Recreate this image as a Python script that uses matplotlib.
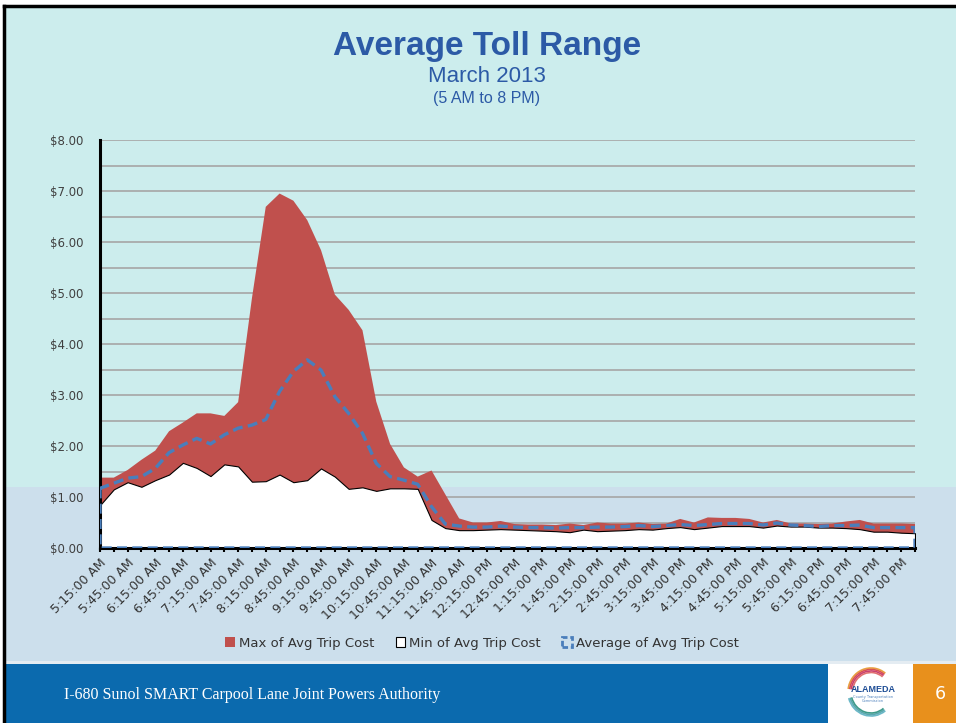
import matplotlib.pyplot as plt
import matplotlib.patches as mpatches
from matplotlib.lines import Line2D

# 15-minute slots, 5:15 AM .. 8:00 PM
slots = []
for h in range(5, 21):
    for m in (0, 15, 30, 45):
        if (h == 5 and m == 0) or (h == 20 and m > 0):
            continue
        hh = h if h <= 12 else h - 12
        ampm = "AM" if h < 12 else "PM"
        slots.append(f"{hh}:{m:02d}:00 {ampm}")

max_cost = [1.38, 1.38, 1.53, 1.73, 1.91, 2.29, 2.46, 2.64, 2.64, 2.59,
            2.86, 4.90, 6.69, 6.95, 6.81, 6.43, 5.84, 4.97, 4.67, 4.27,
            2.87, 2.04, 1.58, 1.40, 1.52, 1.05, 0.58, 0.50, 0.50, 0.53,
            0.47, 0.46, 0.46, 0.45, 0.48, 0.45, 0.50, 0.48, 0.48, 0.50,
            0.47, 0.48, 0.57, 0.50, 0.60, 0.59, 0.59, 0.57, 0.50, 0.55,
            0.48, 0.48, 0.47, 0.48, 0.52, 0.55, 0.48, 0.48, 0.48, 0.47]
min_cost = [0.84, 1.15, 1.29, 1.20, 1.33, 1.44, 1.67, 1.57, 1.41, 1.64,
            1.60, 1.30, 1.31, 1.44, 1.29, 1.33, 1.56, 1.40, 1.16, 1.19,
            1.12, 1.17, 1.17, 1.16, 0.55, 0.39, 0.35, 0.35, 0.36, 0.37,
            0.36, 0.35, 0.34, 0.33, 0.31, 0.36, 0.33, 0.34, 0.35, 0.37,
            0.36, 0.39, 0.41, 0.37, 0.40, 0.43, 0.43, 0.43, 0.40, 0.44,
            0.42, 0.42, 0.40, 0.40, 0.39, 0.37, 0.32, 0.32, 0.30, 0.29]
avg_cost = [1.17, 1.27, 1.37, 1.40, 1.56, 1.87, 2.02, 2.15, 2.04, 2.22,
            2.35, 2.41, 2.52, 3.07, 3.46, 3.69, 3.49, 2.97, 2.64, 2.25,
            1.66, 1.40, 1.33, 1.25, 0.81, 0.47, 0.43, 0.41, 0.41, 0.43,
            0.41, 0.40, 0.40, 0.39, 0.40, 0.40, 0.41, 0.41, 0.42, 0.44,
            0.42, 0.44, 0.46, 0.44, 0.46, 0.48, 0.48, 0.48, 0.45, 0.49,
            0.45, 0.44, 0.42, 0.44, 0.44, 0.45, 0.40, 0.40, 0.40, 0.40]

yticks = [0, 1, 2, 3, 4, 5, 6, 7, 8]

RED = "#C0504D"
BLUE = "#4A7EBB"
CYAN = "#CCEDED"
LIGHTBLUE = "#CCDFEC"

W, H = 956, 723
fig = plt.figure(figsize=(W / 100, H / 100), dpi=100)
fig.patch.set_facecolor("white")

def px(x, y, w, h):
    # pixel box (top-left origin) to figure fraction
    return (x / W, 1 - (y + h) / H, w / W, h / H)

def rect(x, y, w, h, color):
    x0, y0, ww, hh = px(x, y, w, h)
    fig.patches.append(mpatches.Rectangle((x0, y0), ww, hh, transform=fig.transFigure,
                                          facecolor=color, edgecolor="none", zorder=-5))

# slide background
rect(4, 6, W, 481, CYAN)
rect(4, 487, W, 174, LIGHTBLUE)
rect(4, 661, W, 3, "#E4ECF2")
rect(4, 664, 824, 59, "#0B6AAE")
rect(828, 664, 85, 59, "white")
rect(913, 664, 43, 59, "#E8901C")
# black frame lines
fig.add_artist(Line2D([4 / W, 4 / W], [0, 1 - 6 / H], color="black", lw=2.5,
                      transform=fig.transFigure, zorder=-4))
fig.add_artist(Line2D([4 / W, 1], [1 - 6 / H, 1 - 6 / H], color="black", lw=2.5,
                      transform=fig.transFigure, zorder=-4))

# titles
fig.text(487 / W, 1 - 47 / H, "Average Toll Range", ha="center", va="center",
         fontsize=24, fontweight="bold", color="#2C5AA6", family="Liberation Sans")
fig.text(487 / W, 1 - 76 / H, "March 2013", ha="center", va="center",
         fontsize=16, color="#2C5AA6", family="Liberation Sans")
fig.text(487 / W, 1 - 99 / H, "(5 AM to 8 PM)", ha="center", va="center",
         fontsize=11.5, color="#2C5AA6", family="Liberation Sans")

# chart
ax = fig.add_axes(px(100, 140, 815, 408))
ax.patch.set_alpha(0)
x = list(range(len(slots)))

ax.fill_between(x, 0, max_cost, facecolor=RED, edgecolor="none", zorder=2,
                label="Max of Avg Trip Cost")
ax.fill_between(x, 0, min_cost, facecolor="white", edgecolor="black", lw=0.8, zorder=3,
                label="Min of Avg Trip Cost")
ax.fill_between(x, 0, avg_cost, facecolor="none", edgecolor=BLUE, lw=2.4,
                linestyle=(0, (3, 1.6)), zorder=4, label="Average of Avg Trip Cost")

ax.set_xlim(0, len(slots) - 1)
ax.set_ylim(0, 8)
ax.set_yticks(yticks)
ax.set_yticklabels([f"${v:.2f}" for v in yticks])
ax.set_yticks([v + 0.5 for v in yticks[:-1]], minor=True)
ax.grid(True, axis="y", which="both", color="#A6A6A6", lw=1.2, zorder=0)
ax.set_axisbelow(True)

ax.set_xticks(x)
ax.set_xticklabels([s if i % 2 == 0 else "" for i, s in enumerate(slots)],
                   rotation=45, ha="right", rotation_mode="anchor",
                   fontsize=9, color="#333333")
ax.tick_params(axis="x", length=3, width=1.5, color="black", pad=3)
ax.tick_params(axis="y", which="both", length=0, labelsize=8.5, labelcolor="#404040", pad=12)

for side in ("top", "right"):
    ax.spines[side].set_visible(False)
for side in ("left", "bottom"):
    ax.spines[side].set_linewidth(2.2)
    ax.spines[side].set_zorder(3.5)

# legend
handles = [
    mpatches.Patch(facecolor=RED, edgecolor="none"),
    mpatches.Patch(facecolor="white", edgecolor="black", lw=0.8),
    mpatches.Patch(facecolor="none", edgecolor=BLUE, lw=2, linestyle=(0, (2, 1))),
]
labels = ["Max of Avg Trip Cost", "Min of Avg Trip Cost", "Average of Avg Trip Cost"]
fig.legend(handles, labels, loc="center", bbox_to_anchor=(482 / W, 1 - 643 / H), ncol=3,
           frameon=False, fontsize=9.5, handlelength=0.75, handleheight=0.75,
           handletextpad=0.3, columnspacing=1.6, labelcolor="#333333")

# footer
fig.text(64 / W, 1 - 695 / H, "I-680 Sunol SMART Carpool Lane Joint Powers Authority",
         ha="left", va="center", fontsize=11.5, color="white", family="Liberation Serif")
fig.text(873 / W, 1 - 690 / H, "ALAMEDA", ha="center", va="center", fontsize=6.5,
         fontweight="bold", color="#1F4E96", family="Liberation Sans")
fig.text(873 / W, 1 - 699 / H, "County Transportation\nCommission", ha="center", va="center",
         fontsize=2.5, color="#4A7EBB", linespacing=1.0)
for i, c in enumerate(["#E8A040", "#D9534F", "#C94070", "#E07070"]):
    fig.add_artist(mpatches.Arc((871 / W, 1 - 692 / H), (46 - 3 * i) / W, (48 - 3 * i) / H,
                                theta1=60, theta2=170, color=c, lw=1.2, transform=fig.transFigure))
for i, c in enumerate(["#6BB8C8", "#5AA8B0", "#3E9A8A"]):
    fig.add_artist(mpatches.Arc((871 / W, 1 - 692 / H), (46 - 3 * i) / W, (48 - 3 * i) / H,
                                theta1=200, theta2=300, color=c, lw=1.2, transform=fig.transFigure))
fig.text(940 / W, 1 - 694 / H, "6", ha="center", va="center", fontsize=12.5, color="white")

fig.savefig("out.png", dpi=100, facecolor=fig.get_facecolor())
